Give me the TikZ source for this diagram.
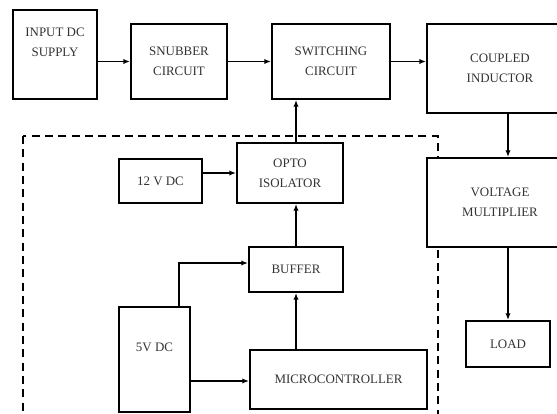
\documentclass[tikz,border=0pt]{standalone}
\usepackage{fontspec}
\setmainfont{Liberation Serif}
\usetikzlibrary{arrows.meta,positioning,calc}
\tikzset{
  block/.style={draw=black, line width=1.5pt, fill=white, align=center,
    inner sep=2pt, font=\fontsize{9.7}{15}\selectfont, text=black!80},
  arrow/.style={-{Latex[length=5pt,width=4pt]}, line width=1.1pt},
  groupline/.style={line width=1.6pt, dash pattern=on 6pt off 4pt}
}
\begin{document}
\begin{tikzpicture}[x=0.75pt, y=-0.75pt]
      \useasboundingbox (0,0) rectangle (557,414);
      \clip (0,0) rectangle (557,414);
      % control section
      \draw[groupline] (23,136) rectangle (438,416);
      % power path
      \node[block, minimum width=63pt, minimum height=66.75pt] (supply) at (55,54.5)
        {INPUT DC\\SUPPLY\\[3pt]\mbox{}};
      \node[block, minimum width=72pt, minimum height=56.25pt] (snubber) at (179,61.5)
        {SNUBBER\\CIRCUIT};
      \node[block, minimum width=88.5pt, minimum height=56.25pt] (switching) at (331,61.5)
        {SWITCHING\\CIRCUIT};
      \node[block, minimum width=109.5pt, minimum height=66.75pt] (coupled) at (500,68.5)
        {COUPLED\\INDUCTOR};
      \node[block, minimum width=109.5pt, minimum height=66.75pt] (multiplier) at (500,202.5)
        {VOLTAGE\\MULTIPLIER};
      \node[block, minimum width=63pt, minimum height=34.5pt] (load) at (508,344)
        {LOAD};
      % driver
      \node[block, minimum width=79.5pt, minimum height=45pt] (opto) at (290,173)
        {OPTO\\ISOLATOR};
      \node[block, minimum width=62.25pt, minimum height=33pt] (twelve) at (160.5,181)
        {12 V DC};
      \node[block, minimum width=70.5pt, minimum height=33.75pt] (buffer) at (296,269.5)
        {BUFFER};
      \node[block, minimum width=53.25pt, minimum height=78.75pt] (five) at (154.5,359.5)
        {5V DC\\[4pt]\mbox{}};
      \node[block, minimum width=132.75pt, minimum height=44.25pt] (micro) at (338.5,379.5)
        {MICROCONTROLLER};
      \draw[arrow] (supply.east |- snubber) -- (snubber);
      \draw[arrow] (snubber) -- (switching);
      \draw[arrow] (switching.east) -- (switching.east -| coupled.west);
      \draw[arrow] (coupled.south -| 508,0) -- (multiplier.north -| 508,0);
      \draw[arrow] (multiplier.south -| 508,0) -- (load.north);
      \draw[arrow] (twelve.east |- opto) -- (opto);
      \draw[arrow] (buffer.north) -- (buffer.north |- opto.south);
      \draw[arrow] (buffer.north |- opto.north) -- (buffer.north |- switching.south);
      \draw[arrow] (buffer.south |- micro.north) -- (buffer.south);
      \draw[arrow] ($(five.north east)+(-12,0)$) |- (buffer.west |- 0,263);
      \draw[arrow] (five.east |- 0,381) -- (micro.west |- 0,381);
    \end{tikzpicture}
\end{document}
